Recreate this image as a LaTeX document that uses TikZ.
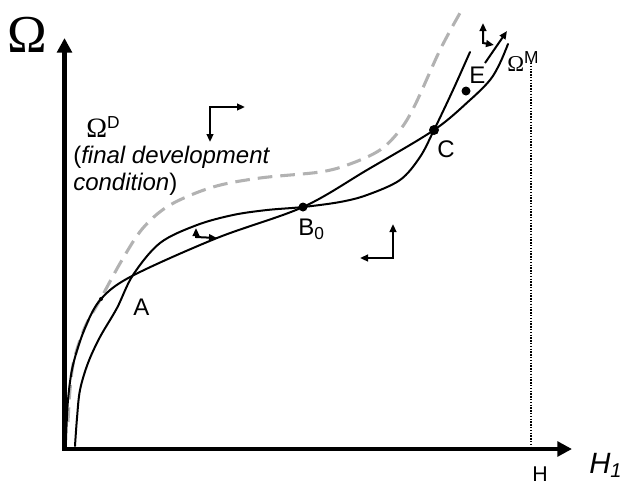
\documentclass[tikz,border=0pt]{standalone}
\usepackage{fontspec}
\setmainfont{Liberation Sans}
\newfontfamily\serifom{Liberation Serif}
\usetikzlibrary{arrows.meta}
\tikzset{
  curve/.style={line width=1.5pt, line cap=round, smooth, tension=0.55},
  dashcurve/.style={line width=2.3pt, color=black!30, dash pattern=on 11pt off 6pt, smooth, tension=0.55},
  axis/.style={line width=3.4pt, line join=miter, {Triangle[length=11pt,width=11pt]}-{Triangle[length=11pt,width=11pt]}},
  dirarrow/.style={line width=1.5pt, line join=miter, {Triangle[length=6pt,width=5pt]}-{Triangle[length=6pt,width=5pt]}},
  onearrow/.style={line width=1.5pt, -{Triangle[length=6pt,width=5pt]}},
  lbl/.style={inner sep=0pt, anchor=base west, font=\fontsize{18}{20}\selectfont},
  dot/.style={fill=black}
}
\begin{document}
\begin{tikzpicture}[x=0.75pt, y=-0.75pt]
\useasboundingbox (0,0) rectangle (624,487);
% axes
\coordinate (ytip) at (64.5,38);
\coordinate (orig) at (64.5,449);
\coordinate (xtip) at (572,449);
\draw[axis] (ytip) -- (orig) -- (xtip);
% dotted line H
\coordinate (htop) at (531,63);
\coordinate (hbot) at (531,449);
\draw[line width=1.1pt, densely dotted] (htop) -- (hbot);
% dashed final development curve
\draw[dashcurve] plot coordinates {(68,422) (70,390) (74,360) (85,327) (100,300) (122,260) (143,228) (170,205) (213,187) (260,178) (320,172) (350,164) (380,150) (400,130) (415,105) (440,50) (460,13)};
% S-curve
\draw[curve] plot coordinates {(75,446) (77,418) (80,390) (88,363) (100,337) (117,308) (133,275) (160,243) (197,225) (233,215) (267,210) (303,207) (340,202) (367,195) (400,180) (420,157) (434,130) (453,90) (470,52)};
% second curve
\draw[curve] plot coordinates {(66,440) (68,400) (73,365) (85,328) (101,299) (132,276) (217,238) (303,207) (367,170) (434,130) (470,100) (490,80) (500,63) (508,44)};
% dots
\coordinate (A) at (132,276);
\coordinate (B0) at (303,207);
\coordinate (C) at (434,130);
\coordinate (E) at (466,91);
\coordinate (P) at (101,299);
\fill[dot] (B0) circle (4.5);
\fill[dot] (C) circle (5);
\fill[dot] (E) circle (4.5);
\fill[dot] (P) circle (2);
% small direction arrows
\coordinate (a1h) at (245,107); \coordinate (a1c) at (210,107); \coordinate (a1v) at (210,142);
\draw[dirarrow] (a1h) -- (a1c) -- (a1v);
\coordinate (a2v) at (196,228); \coordinate (a2c) at (196,237); \coordinate (a2h) at (217,238);
\draw[dirarrow] (a2v) -- (a2c) -- (a2h);
\coordinate (a3v) at (393,224); \coordinate (a3c) at (393,258); \coordinate (a3h) at (360,258);
\draw[dirarrow] (a3v) -- (a3c) -- (a3h);
\coordinate (a4v) at (483,23); \coordinate (a4c) at (483,43); \coordinate (a4h) at (494,45);
\draw[dirarrow] (a4v) -- (a4c) -- (a4h);
\coordinate (a5s) at (485,63); \coordinate (a5e) at (507,31);
\draw[onearrow] (a5s) -- (a5e);
% labels
\node[inner sep=0pt, anchor=base] (omega) at (27,52) {\fontsize{40}{40}\selectfont\serifom Ω};
\node[inner sep=0pt, anchor=base west] (omD) at (86,137) {\fontsize{21}{21}\selectfont\serifom Ω\raisebox{6.5pt}{\fontsize{13}{13}\selectfont\rmfamily D}};
\node[lbl] (t1) at (73,163) {(\textit{final development}};
\node[lbl] (t2) at (73,190) {\textit{condition})};
\node[lbl] (lA) at (133,315) {A};
\node[lbl] (lB) at (298,235) {B\raisebox{-3pt}{\fontsize{13}{13}\selectfont 0}};
\node[lbl] (lC) at (437,157) {C};
\node[lbl] (lE) at (469,83) {E};
\node[inner sep=0pt, anchor=base west] (omM) at (507,71) {\fontsize{17}{17}\selectfont\serifom Ω\raisebox{5.5pt}{\fontsize{13}{13}\selectfont\rmfamily M}};
\node[inner sep=0pt, anchor=base west] (H1) at (589,473) {\fontsize{22}{22}\selectfont\itshape H\raisebox{-3pt}{\fontsize{15}{15}\selectfont 1}};
\node[inner sep=0pt, anchor=base west] (Hl) at (532,481) {\fontsize{16}{16}\selectfont H};
\end{tikzpicture}
\end{document}
